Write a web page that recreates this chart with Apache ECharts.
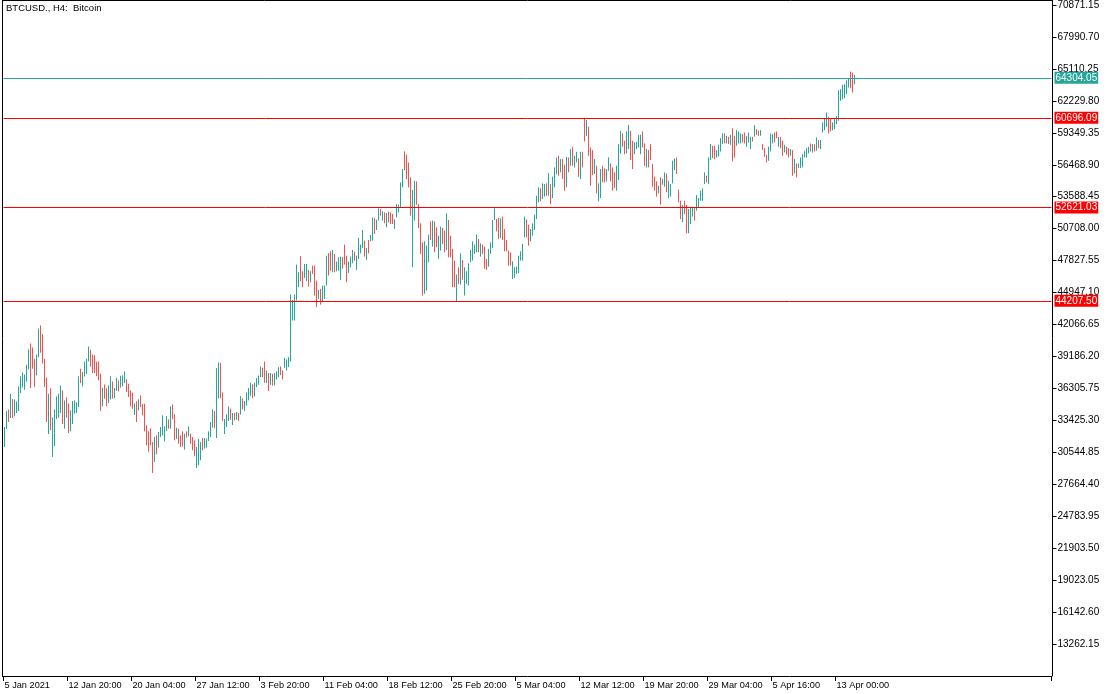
<!DOCTYPE html>
<html><head><meta charset="utf-8">
<script src="https://cdn.jsdelivr.net/npm/echarts@6/dist/echarts.min.js"></script>
<style>html,body{margin:0;padding:0;background:#fff}#c{width:1110px;height:694px}</style>
</head><body><div id="c"></div>
<script>
const chartTitle = 'BTCUSD., H4:  Bitcoin';
const tickLabels = ['5 Jan 2021','12 Jan 20:00','20 Jan 04:00','27 Jan 12:00','3 Feb 20:00','11 Feb 04:00','18 Feb 12:00','25 Feb 20:00','5 Mar 04:00','12 Mar 12:00','19 Mar 20:00','29 Mar 04:00','5 Apr 16:00','13 Apr 00:00'];
const barsPerTick = 32;
const emptyBarsRight = 98;
// bar highs (H4 bars, left to right)
const highs = [
32827,34267,34417,35827,35347,35317,35137,36487,37387,37747,
37567,38437,39817,40357,39997,38977,39337,41707,41977,41197,
38977,37267,35827,36307,33697,34417,35587,35827,36577,36127,
35227,35497,34957,34327,35167,35227,35047,37387,38077,37777,
38737,38977,40087,39787,39367,39307,38707,38737,37627,36367,
36667,36337,36577,37387,36937,36337,37267,37027,37447,37477,
37837,37147,36727,36127,35917,34957,35137,35317,35677,34897,
34927,32977,32437,32706,31476,31926,32076,32376,32826,33876,
32886,33786,33516,34686,34866,33966,32766,32676,32076,32436,
32226,32436,32886,32226,31926,31626,31026,31746,31476,31836,
31836,31776,32436,33276,34416,34266,38136,38646,38616,35946,
33546,33966,34686,34476,34086,34086,34176,34086,35616,35406,
35166,35946,36336,36816,36666,36816,37236,37476,38286,38166,
38736,37926,37686,37686,37626,37686,37836,38226,38286,37926,
39066,38916,39126,44768,44290,44768,47468,46778,48218,46868,
47528,47528,46988,46868,47378,47378,46028,45188,45278,45578,
45578,48278,48488,48668,48788,48428,47739,48129,48189,48129,
49269,48279,47739,48189,48789,48639,48279,49869,49269,50589,
49629,48969,49689,50139,51729,51669,51519,52539,52479,52269,
52179,52119,52239,52179,52029,51549,52929,52869,54879,56079,
57669,57369,56679,55329,54189,55029,54969,52929,51189,49479,
49569,49179,50169,51369,51429,51369,50829,50079,50889,50769,
50529,52089,51489,50079,48879,47829,46569,47229,48489,47889,
47229,46869,47589,48789,49569,49269,50169,49779,49389,49269,
49089,47979,48879,49479,51489,52539,51579,51669,51639,51789,
50679,49689,48729,48579,47769,47229,47289,48279,48669,49329,
51789,51519,51069,50679,51189,51969,53679,54429,54339,54789,
54729,54789,55719,54729,55389,56229,57129,57279,56979,56979,
56469,57189,57129,57879,58089,57279,57640,57040,57640,57640,
60700,60520,59890,58030,57790,56980,56380,54790,56080,56380,
56140,56080,57130,56590,56230,55780,56380,58330,59530,59290,
58630,59470,60070,59530,58630,58480,58540,59170,59170,59470,
58390,57880,57790,58330,56530,55390,54970,54580,55330,55180,
55780,55690,55030,54730,56830,57040,57130,54220,53230,52840,
53230,52840,52480,52630,52690,52630,53740,53470,54130,54340,
55780,55480,57130,58330,58180,58180,57790,58270,58870,59290,
59290,59080,58990,59170,59770,59080,59590,59470,59290,59230,
59380,59080,59380,58990,58990,60040,59680,59530,59590,58330,
57970,57370,58090,59290,59230,59380,59470,58990,58990,58630,
58270,58090,57970,57880,57790,56980,56590,56590,57130,57430,
57730,57970,58090,58390,58330,58330,58930,58690,58690,60280,
60670,61180,60790,60580,60280,60580,60880,63190,63280,63670,
63730,64090,64270,64870,64780,64570
];
// bar lows
const lows = [
31027,32647,33277,33637,33637,33787,34087,34267,35887,36397,
36187,36907,38017,36337,38077,36427,37477,39127,39517,38557,
36427,33277,32197,32557,30127,31117,33547,33667,34087,33097,
32677,33667,32287,32437,33097,34027,34087,34627,36787,36487,
37387,37597,38737,38287,37687,37687,37417,37027,34267,34687,
35377,34717,34987,35317,35377,35437,36097,36037,36367,36487,
36787,35977,35527,34687,34477,33907,33277,34327,34627,33877,
32437,31177,30600,31176,28686,29676,30366,30966,31926,32076,
31536,32466,32676,32676,33516,31626,31746,31326,31026,31086,
30786,31866,31986,31326,30726,30186,29136,29376,29826,30726,
30876,30966,31566,31926,32766,32706,31836,35406,35436,33366,
32196,32826,33366,33486,33006,33426,33486,33366,33936,34416,
34266,34746,35226,35646,35436,35586,36426,36636,37326,37326,
36816,36786,36066,36636,36546,36576,37116,37326,37506,37116,
38166,37926,38226,38736,42430,42428,44228,45428,45968,45428,
46268,45968,45488,45878,46628,44678,43628,44378,43868,44078,
44378,45578,46478,46928,46778,46778,46869,46929,46089,47109,
47469,45879,46719,47229,47589,47829,46989,47979,48489,48969,
48189,47889,48489,49569,49629,50229,50589,51429,51879,51429,
51189,50829,51279,51129,51129,50679,51729,52179,52629,54429,
55989,55179,54429,51879,47229,51429,52869,50769,48429,44679,
44829,45129,47679,49689,49089,48579,49029,47979,48729,49329,
48579,48789,48129,48129,45429,45429,44079,45729,45669,46089,
44679,45729,45579,47679,47829,48429,48579,48579,48189,48429,
47079,46989,47289,48429,48969,51489,50469,49779,49869,49689,
48669,48669,47379,47379,46179,46269,46629,46689,47829,47829,
49929,49929,49179,49569,50079,50589,51579,53079,53169,53379,
53589,53679,53679,52929,53469,54429,55629,55479,55779,55179,
54129,54429,55779,56379,56379,56229,56680,55390,55180,56230,
58570,59080,57280,54580,55540,55630,53890,53170,53470,54880,
54880,54970,55930,54970,54130,54370,54130,55090,57490,58090,
57430,57490,57880,56890,56080,57430,57880,58030,57430,58030,
56380,56230,56230,56890,54490,54130,53590,53890,52870,54670,
54490,53980,53470,53590,54790,55990,55630,53080,51580,51280,
52030,50290,50290,51130,51790,51430,52330,52570,53230,53230,
54730,54880,54730,56890,57070,56980,57130,57220,57670,58330,
58390,58390,58330,58270,56770,57130,58180,58390,58390,58480,
58390,58090,58480,57880,58570,58990,59170,59080,59080,57790,
57190,56680,56830,57670,58390,58480,58870,58090,57970,57280,
57580,57370,57130,57280,55480,55690,55330,56170,56170,56230,
57130,57130,57490,57670,57580,57670,57730,57970,57880,59380,
59590,59890,59290,59470,59590,59680,60130,60430,62230,62380,
62470,62830,63430,63370,62980,63730
];
const dirs = ("uududuuuuu uuuddduudd dduduuuuud udduuuuudu uuuddddddu dduuduuduu uddddududd ddddduduuu uududduddd ududdduuud " +
  "uuuuuduudd uuudududud uuuuduuuud dududuuudd uuuuuuuudd uududddudu uudduduuud dduuuduuuu duduuduudu duddduuuuu " +
  "dddduudddd uuududduud duddddudud uuuuuuudud dduuuuddud dddduuuuuu udduuuuudu ududuuudud dududuudud duddduduud " +
  "duuddduuud duudduuuud dudddddudu uduuuudddu dduuuduuuu uduudduuuu dududduuud duuududdud dduuuddudd uddududuuu " +
  "uuudududuu uudduuuuuu uuuddu").replace(/ /g, '');
const supportResistance = [60696.09, 52621.03, 44207.50];
const lastPrice = 64304.05;
const yMin = 10381.70, yMax = 71231.20, yStep = 2880.45;

const UP = '#26a69a', DOWN = '#ef5350', LEVEL = '#ff0000';
const FONT = 'Liberation Sans';

const categories = Array.from({length: highs.length + emptyBarsRight}, (_, i) => String(i));
const candles = highs.map((h, i) => dirs[i] === 'u' ? [lows[i], h, lows[i], h] : [h, lows[i], lows[i], h]);
const showTick = (i) => i % barsPerTick === 0 && i / barsPerTick < tickLabels.length;

const lvlLabel = (bg) => ({show: true, position: 'end', distance: 3, color: '#fff', backgroundColor: bg,
  fontFamily: FONT, fontSize: 10, lineHeight: 11, padding: [1, 1, 0, 1], formatter: p => Number(p.value).toFixed(2)});

const chart = echarts.init(document.getElementById('c'), null, {renderer: 'canvas'});
chart.setOption({
  animation: false,
  backgroundColor: '#fff',
  title: {text: chartTitle, left: 6, top: 3, padding: 0,
    textStyle: {fontFamily: FONT, fontSize: 9.5, fontWeight: 'normal', color: '#000'}},
  grid: {left: 3.5, top: 0, width: 1048, height: 676, show: false},
  graphic: [
    {type: 'line', shape: {x1: 2.5, y1: 0, x2: 2.5, y2: 677}, style: {stroke: '#000', lineWidth: 1}, silent: true},
    {type: 'line', shape: {x1: 2, y1: 0.5, x2: 1053, y2: 0.5}, style: {stroke: '#000', lineWidth: 1}, silent: true}
  ],
  xAxis: {
    type: 'category', data: categories, boundaryGap: true,
    axisLine: {show: true, lineStyle: {color: '#000', width: 1}},
    axisTick: {show: true, interval: showTick, length: 5, lineStyle: {color: '#000'}},
    axisLabel: {show: true, interval: showTick, align: 'left', margin: 5, color: '#000',
      fontFamily: FONT, fontSize: 9.2, formatter: (v, i) => tickLabels[i / barsPerTick] || ''},
    splitLine: {show: false}
  },
  yAxis: {
    type: 'value', position: 'right', offset: 1, min: yMin, max: yMax, interval: yStep,
    axisLine: {show: true, lineStyle: {color: '#000', width: 1}},
    axisTick: {show: true, length: 4, inside: false, lineStyle: {color: '#000'}},
    axisLabel: {show: true, margin: 5, color: '#000', fontFamily: FONT, fontSize: 10,
      showMinLabel: false, showMaxLabel: false, formatter: v => v.toFixed(2)},
    splitLine: {show: false}
  },
  series: [{
    type: 'candlestick', data: candles, barWidth: 1, large: false,
    itemStyle: {color: UP, color0: DOWN, borderColor: UP, borderColor0: DOWN, borderWidth: 1},
    markLine: {
      silent: true, symbol: ['none', 'none'], animation: false,
      lineStyle: {width: 1, type: 'solid'},
      data: supportResistance.map(v => ({yAxis: v, lineStyle: {color: LEVEL, width: 1, type: 'solid'}, label: lvlLabel(LEVEL)}))
        .concat([{yAxis: lastPrice, lineStyle: {color: UP, width: 1, type: 'solid'}, label: lvlLabel(UP)}])
    }
  }]
});
</script></body></html>
